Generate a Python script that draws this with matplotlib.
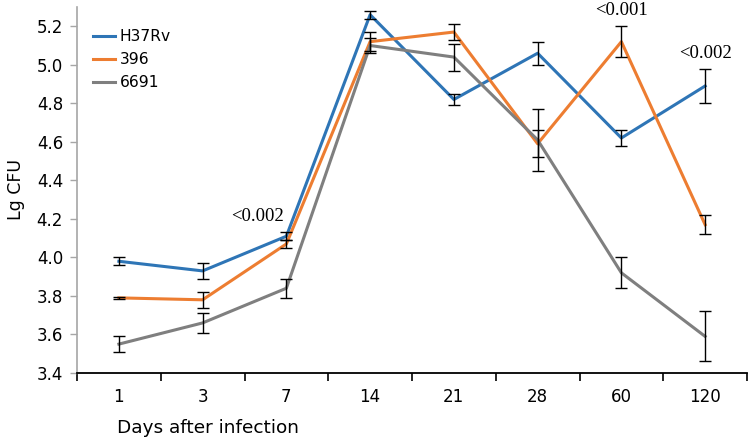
import matplotlib.pyplot as plt
import numpy as np

# data
days = ["1", "3", "7", "14", "21", "28", "60", "120"]
h37rv = [3.98, 3.93, 4.11, 5.26, 4.82, 5.06, 4.62, 4.89]
h37rv_err = [0.02, 0.04, 0.02, 0.02, 0.03, 0.06, 0.04, 0.09]
s396 = [3.79, 3.78, 4.07, 5.12, 5.17, 4.59, 5.12, 4.17]
s396_err = [0.005, 0.04, 0.02, 0.05, 0.04, 0.07, 0.08, 0.05]
s6691 = [3.55, 3.66, 3.84, 5.10, 5.04, 4.61, 3.92, 3.59]
s6691_err = [0.04, 0.05, 0.05, 0.04, 0.07, 0.16, 0.08, 0.13]

pvals = ["<0.002", "<0.001", "<0.002"]
pval_pos = [2, 6, 7]
pval_y = [4.21, 5.28, 5.06]

plt.rcParams["font.family"] = ["DejaVu Sans"]


def main():
    fig = plt.figure(figsize=(7.5, 4.42), dpi=100)
    ax = fig.add_axes([77 / 750, 69 / 442, 670 / 750, 366 / 442])

    x = np.arange(len(days))
    series = [
        ("H37Rv", h37rv, h37rv_err, "#2E75B6"),
        ("396", s396, s396_err, "#ED7D31"),
        ("6691", s6691, s6691_err, "#7F7F7F"),
    ]
    for name, vals, err, col in series:
        ax.plot(x, vals, color=col, lw=2.2, label=name, zorder=2)
        ax.errorbar(x, vals, yerr=err, fmt="none", ecolor="black",
                    elinewidth=1, capsize=4, capthick=1, zorder=3)

    # p-value labels
    ax.text(pval_pos[0] - 0.03, pval_y[0], pvals[0], ha="right", va="center",
            family="Liberation Serif", fontsize=13.5)
    for p, xp, yp in zip(pvals[1:], pval_pos[1:], pval_y[1:]):
        ax.text(xp, yp, p, ha="center", va="center",
                family="Liberation Serif", fontsize=13.5)

    ax.set_xlim(-0.5, 7.5)
    ax.set_ylim(3.4, 5.3)
    ax.set_yticks(np.arange(3.4, 5.21, 0.2))
    ax.set_yticklabels([f"{v:.1f}" for v in np.arange(3.4, 5.21, 0.2)])

    ax.set_xticks(np.arange(-0.5, 7.6, 1))
    ax.set_xticklabels([])
    ax.set_xticks(x, minor=True)
    ax.set_xticklabels(days, minor=True)
    ax.tick_params(axis="x", which="minor", length=0, pad=11, labelsize=12)
    ax.tick_params(axis="x", which="major", length=6, width=1.2, color="black")
    ax.tick_params(axis="y", length=5, width=1, color="#A6A6A6", labelsize=12,
                   pad=5)

    for s in ["top", "right"]:
        ax.spines[s].set_visible(False)
    ax.spines["left"].set_color("#A6A6A6")
    ax.spines["left"].set_linewidth(1.2)
    ax.spines["bottom"].set_linewidth(1.3)

    ax.set_ylabel("Lg CFU", fontsize=12.5)
    ax.yaxis.set_label_coords(-0.078, 0.5)
    fig.text(117 / 750, 1 - 428 / 442, "Days after infection", fontsize=13.3,
             ha="left", va="center")

    ax.legend(loc="upper left", bbox_to_anchor=(0.003, 0.977), frameon=False,
              fontsize=11.2, handlelength=1.4, handletextpad=0.3,
              labelspacing=0.5)

    fig.savefig("out.png", dpi=100)


if __name__ == "__main__":
    main()
